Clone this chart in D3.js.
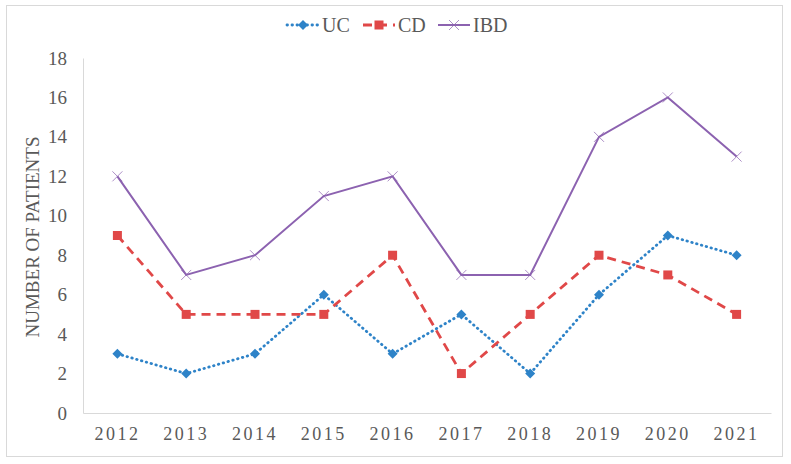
<!DOCTYPE html>
<html><head><meta charset="utf-8">
<script src="https://cdn.jsdelivr.net/npm/d3@7"></script>
<style>body{margin:0;background:#fff}svg{display:block}
text{font-family:"Liberation Serif","Times New Roman",Times,serif !important;}</style>
</head><body>
<svg id="c" width="791" height="464"></svg>
<script>
const years = ["2012","2013","2014","2015","2016","2017","2018","2019","2020","2021"];
const ucValues = [3,2,3,6,3,5,2,6,9,8];
const cdValues = [9,5,5,5,8,2,5,8,7,5];
const ibdValues = [12,7,8,11,12,7,7,14,16,13];
const yTicks = [0,2,4,6,8,10,12,14,16,18];
const seriesNames = ["UC","CD","IBD"];

const svg = d3.select("#c");
const textColor = "#595959";

svg.append("rect").attr("x",6.5).attr("y",5.5).attr("width",776).attr("height",451)
  .attr("fill","#fff").attr("stroke","#d9d9d9");

const m = {left:83, right:771, top:58, bottom:413};
const x = d3.scaleBand().domain(years).range([m.left, m.right]);
const y = d3.scaleLinear().domain([0,18]).range([m.bottom, m.top]);

const yAxis = svg.append("g").attr("transform",`translate(${m.left},0)`)
  .call(d3.axisLeft(y).tickValues(yTicks).tickSize(0).tickPadding(16));
yAxis.select(".domain").attr("stroke","#d9d9d9");
yAxis.selectAll("text").attr("font-size",19).attr("fill",textColor);

const xAxis = svg.append("g").attr("transform",`translate(0,${m.bottom})`)
  .call(d3.axisBottom(x).tickSize(0).tickPadding(14));
xAxis.select(".domain").attr("stroke","#d9d9d9");
xAxis.selectAll("text").attr("font-size",18).attr("fill",textColor)
  .attr("letter-spacing","2.5px");

svg.append("text").attr("transform","translate(39,237) rotate(-90)")
  .attr("text-anchor","middle").attr("font-size",19)
  .attr("fill",textColor).text("NUMBER OF PATIENTS");

const series = [
  {name:seriesNames[0], values:ucValues, color:"#2E83C8", dash:"0.5,4.5", width:2.8, marker:"diamond"},
  {name:seriesNames[1], values:cdValues, color:"#E04848", dash:"9,6", width:2.8, marker:"square"},
  {name:seriesNames[2], values:ibdValues, color:"#8C62B0", dash:null, width:2, marker:"x"}
];

const cx = (i) => x(years[i]) + x.bandwidth()/2;
const line = d3.line().x((d,i)=>cx(i)).y(d=>y(d));

function drawMarker(g, type, color, px, py){
  if(type==="diamond"){
    g.append("path").attr("d",`M${px},${py-5}L${px+5},${py}L${px},${py+5}L${px-5},${py}Z`).attr("fill",color);
  } else if(type==="square"){
    g.append("rect").attr("x",px-4.5).attr("y",py-4.5).attr("width",9).attr("height",9).attr("fill",color);
  } else {
    g.append("path").attr("d",`M${px-5},${py-5}L${px+5},${py+5}M${px-5},${py+5}L${px+5},${py-5}`)
      .attr("stroke",color).attr("stroke-width",1).attr("opacity",0.7);
  }
}

series.forEach(s=>{
  const g = svg.append("g");
  g.append("path").datum(s.values).attr("d",line).attr("fill","none")
    .attr("stroke",s.color).attr("stroke-width",s.width)
    .attr("stroke-dasharray",s.dash).attr("stroke-linecap",s.marker==="diamond"?"round":"butt");
  s.values.forEach((v,i)=>drawMarker(g,s.marker,s.color,cx(i),y(v)));
});

const legendX = [287, 363, 438];
series.forEach((s,i)=>{
  const g = svg.append("g");
  const lx = legendX[i], ly = 25;
  g.append("line").attr("x1",lx).attr("x2",lx+32).attr("y1",ly).attr("y2",ly)
    .attr("stroke",s.color).attr("stroke-width",s.width).attr("stroke-dasharray",s.dash)
    .attr("stroke-linecap",s.marker==="diamond"?"round":"butt");
  drawMarker(g,s.marker,s.color,lx+16,ly);
  g.append("text").attr("x",lx+35).attr("y",ly+7).attr("font-size",20)
    .attr("fill",textColor).text(s.name);
});
</script>
</body></html>
